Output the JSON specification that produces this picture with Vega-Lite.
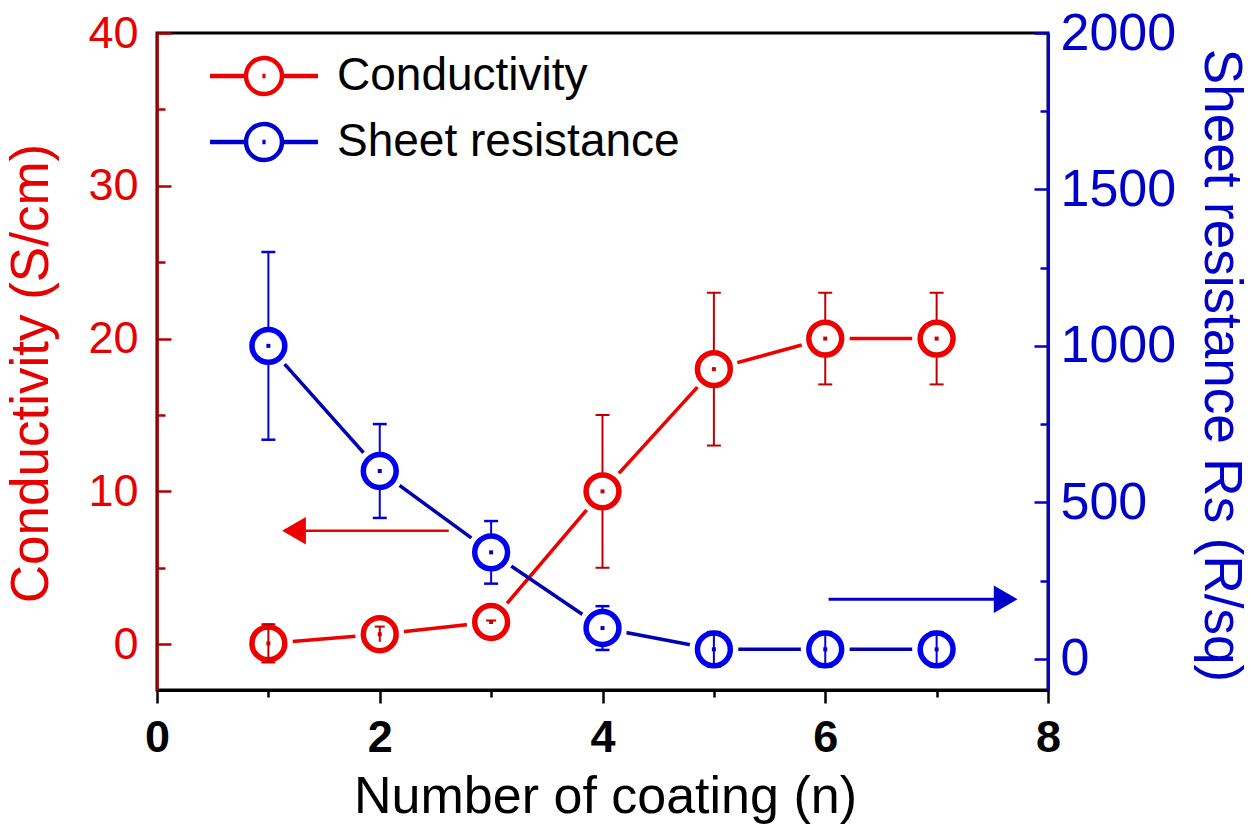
{
  "$schema": "https://vega.github.io/schema/vega-lite/v6.json",
  "width": 891,
  "height": 657,
  "autosize": {"type": "none"},
  "padding": {"left": 157, "top": 33, "right": 205, "bottom": 138},
  "background": "white",
  "config": {
    "font": "Liberation Sans",
    "view": {"stroke": "black", "strokeWidth": 3}
  },
  "datasets": {
    "cond": [
      {"n": 1, "value": 0.05, "lo": -1.2, "hi": 1.3, "series": "Conductivity"},
      {"n": 2, "value": 0.65, "lo": 0.15, "hi": 1.15, "series": "Conductivity"},
      {"n": 3, "value": 1.45, "lo": 1.35, "hi": 1.55, "series": "Conductivity"},
      {"n": 4, "value": 10, "lo": 5, "hi": 15, "series": "Conductivity"},
      {"n": 5, "value": 18, "lo": 13, "hi": 23, "series": "Conductivity"},
      {"n": 6, "value": 20, "lo": 17, "hi": 23, "series": "Conductivity"},
      {"n": 7, "value": 20, "lo": 17, "hi": 23, "series": "Conductivity"}
    ],
    "res": [
      {"n": 1, "value": 1000, "lo": 700, "hi": 1300, "series": "Sheet resistance"},
      {"n": 2, "value": 600, "lo": 450, "hi": 750, "series": "Sheet resistance"},
      {"n": 3, "value": 340, "lo": 240, "hi": 440, "series": "Sheet resistance"},
      {"n": 4, "value": 98, "lo": 28, "hi": 168, "series": "Sheet resistance"},
      {"n": 5, "value": 30, "lo": -25, "hi": 85, "series": "Sheet resistance"},
      {"n": 6, "value": 30, "lo": -25, "hi": 85, "series": "Sheet resistance"},
      {"n": 7, "value": 30, "lo": -25, "hi": 85, "series": "Sheet resistance"}
    ],
    "arrowL": [{"x1": 1.23, "x2": 2.62, "y": 7.42}],
    "arrowR": [{"x1": 6.03, "x2": 7.62, "y": 190}]
  },
  "layer": [
    {
      "data": {"name": "cond"},
      "layer": [
        {
          "mark": {"type": "line", "strokeWidth": 3.5},
          "encoding": {
            "x": {"field": "n", "type": "quantitative", "scale": {"domain": [0, 8], "nice": false, "zero": false},
              "axis": {
                "values": [0, 1, 2, 3, 4, 5, 6, 7, 8],
                "labelExpr": "datum.value % 2 == 0 ? format(datum.value, 'd') : ''",
                "tickSize": {"condition": {"test": "datum.value % 2 == 0", "value": 13}, "value": 7},
                "tickColor": "black", "tickWidth": 2.5,
                "domainColor": "black", "domainWidth": 3,
                "labelFontSize": 45, "labelFontWeight": "bold", "labelColor": "black",
                "labelFlush": false, "labelOverlap": false,
                "labelBaseline": "alphabetic", "labelPadding": 48,
                "title": "Number of coating (n)", "titleFontSize": 52, "titleFontWeight": "normal",
                "titleColor": "black", "titleX": 448, "titleY": 122, "titleBaseline": "alphabetic", "titleAlign": "center",
                "grid": false
              }},
            "y": {"field": "value", "type": "quantitative", "scale": {"domain": [-3, 40], "nice": false, "zero": false},
              "axis": {
                "orient": "left",
                "values": [0, 5, 10, 15, 20, 25, 30, 35, 40],
                "labelExpr": "datum.value % 10 == 0 ? format(datum.value, 'd') : ''",
                "tickSize": {"condition": {"test": "datum.value % 10 == 0", "value": -14}, "value": -8},
                "tickColor": "#b00000", "tickWidth": 2.5,
                "domainColor": "#b00000", "domainWidth": 2.5,
                "labelColor": "#e60000", "labelFontSize": 45, "labelPadding": 33,
                "labelFlush": false, "labelOverlap": false,
                "title": "Conductivity (S/cm)", "titleColor": "#e60000", "titleFontSize": 53, "titleFontWeight": "normal",
                "titleAngle": -90, "titleX": -110, "titleY": 340, "titleBaseline": "alphabetic", "titleAlign": "center",
                "grid": false
              }},
            "color": {"field": "series", "type": "nominal",
              "scale": {"domain": ["Conductivity", "Sheet resistance"], "range": ["#ee0000", "#0000cc"]},
              "legend": {
                "orient": "none", "legendX": 84, "legendY": 20, "direction": "vertical", "title": null,
                "symbolType": "M-2.7,0L-0.9,0M0.9,0L2.7,0M-0.9,0A0.9,0.9,0,1,0,0.9,0A0.9,0.9,0,1,0,-0.9,0M-0.08,0L0.08,0",
                "symbolSize": 1600, "symbolStrokeWidth": 4.5, "symbolFillColor": "white",
                "labelFontSize": 46, "labelColor": "black", "labelOffset": 50, "rowPadding": 12,
                "padding": 0, "symbolOffset": 0, "labelLimit": 600
              }}
          }
        },
        {
          "mark": {"type": "point", "filled": true, "color": "white", "size": 2400, "opacity": 1},
          "encoding": {
            "x": {"field": "n", "type": "quantitative", "scale": {"domain": [0, 8], "nice": false, "zero": false}},
            "y": {"field": "value", "type": "quantitative", "scale": {"domain": [-3, 40], "nice": false, "zero": false}}
          }
        },
        {
          "mark": {"type": "rule", "color": "#c00000", "strokeWidth": 2},
          "encoding": {
            "x": {"field": "n", "type": "quantitative", "scale": {"domain": [0, 8], "nice": false, "zero": false}},
            "y": {"field": "lo", "type": "quantitative", "scale": {"domain": [-3, 40], "nice": false, "zero": false}},
            "y2": {"field": "hi"}
          }
        },
        {
          "mark": {"type": "tick", "orient": "horizontal", "color": "#c00000", "size": 14, "thickness": 2, "opacity": 1},
          "encoding": {
            "x": {"field": "n", "type": "quantitative", "scale": {"domain": [0, 8], "nice": false, "zero": false}},
            "y": {"field": "lo", "type": "quantitative", "scale": {"domain": [-3, 40], "nice": false, "zero": false}}
          }
        },
        {
          "mark": {"type": "tick", "orient": "horizontal", "color": "#c00000", "size": 14, "thickness": 2, "opacity": 1},
          "encoding": {
            "x": {"field": "n", "type": "quantitative", "scale": {"domain": [0, 8], "nice": false, "zero": false}},
            "y": {"field": "hi", "type": "quantitative", "scale": {"domain": [-3, 40], "nice": false, "zero": false}}
          }
        },
        {
          "mark": {"type": "point", "filled": false, "fill": "white", "stroke": "#ee0000", "strokeWidth": 5.5, "size": 1080, "opacity": 1},
          "encoding": {
            "x": {"field": "n", "type": "quantitative", "scale": {"domain": [0, 8], "nice": false, "zero": false}},
            "y": {"field": "value", "type": "quantitative", "scale": {"domain": [-3, 40], "nice": false, "zero": false}}
          }
        },
        {
          "transform": [{"filter": "datum.hi - datum.lo < 3"}],
          "mark": {"type": "rule", "color": "#c00000", "strokeWidth": 2},
          "encoding": {
            "x": {"field": "n", "type": "quantitative", "scale": {"domain": [0, 8], "nice": false, "zero": false}},
            "y": {"field": "lo", "type": "quantitative", "scale": {"domain": [-3, 40], "nice": false, "zero": false}},
            "y2": {"field": "hi"}
          }
        },
        {
          "transform": [{"filter": "datum.hi - datum.lo < 3"}],
          "mark": {"type": "tick", "orient": "horizontal", "color": "#c00000", "size": 10, "thickness": 2, "opacity": 1},
          "encoding": {
            "x": {"field": "n", "type": "quantitative", "scale": {"domain": [0, 8], "nice": false, "zero": false}},
            "y": {"field": "hi", "type": "quantitative", "scale": {"domain": [-3, 40], "nice": false, "zero": false}}
          }
        },
        {
          "mark": {"type": "point", "filled": true, "color": "#cc0000", "size": 16, "opacity": 1, "shape": "square"},
          "encoding": {
            "x": {"field": "n", "type": "quantitative", "scale": {"domain": [0, 8], "nice": false, "zero": false}},
            "y": {"field": "value", "type": "quantitative", "scale": {"domain": [-3, 40], "nice": false, "zero": false}}
          }
        },
        {
          "data": {"name": "arrowL"},
          "mark": {"type": "rule", "color": "#ee0000", "strokeWidth": 2.5},
          "encoding": {
            "x": {"field": "x1", "type": "quantitative", "scale": {"domain": [0, 8], "nice": false, "zero": false}},
            "x2": {"field": "x2"},
            "y": {"field": "y", "type": "quantitative", "scale": {"domain": [-3, 40], "nice": false, "zero": false}}
          }
        },
        {
          "data": {"name": "arrowL"},
          "mark": {"type": "point", "shape": "triangle-left", "filled": true, "color": "#ee0000", "size": 750, "opacity": 1},
          "encoding": {
            "x": {"field": "x1", "type": "quantitative", "scale": {"domain": [0, 8], "nice": false, "zero": false}},
            "y": {"field": "y", "type": "quantitative", "scale": {"domain": [-3, 40], "nice": false, "zero": false}}
          }
        }
      ]
    },
    {
      "data": {"name": "res"},
      "layer": [
        {
          "mark": {"type": "line", "strokeWidth": 3.5, "stroke": "#0000b0"},
          "encoding": {
            "x": {"field": "n", "type": "quantitative", "scale": {"domain": [0, 8], "nice": false, "zero": false}},
            "y": {"field": "value", "type": "quantitative", "scale": {"domain": [-100, 2000], "nice": false, "zero": false},
              "axis": {
                "orient": "right",
                "values": [0, 250, 500, 750, 1000, 1250, 1500, 1750, 2000],
                "labelExpr": "datum.value % 500 == 0 ? format(datum.value, 'd') : ''",
                "tickSize": {"condition": {"test": "datum.value % 500 == 0", "value": -14}, "value": -8},
                "tickColor": "#0000cc", "tickWidth": 2.5,
                "domainColor": "#0000ee", "domainWidth": 3,
                "labelColor": "#0000c8", "labelFontSize": 52, "labelPadding": 26,
                "labelFlush": false, "labelOverlap": false,
                "title": "Sheet resistance Rs (R/sq)", "titleColor": "#0000c8", "titleFontSize": 53, "titleFontWeight": "normal",
                "titleAngle": 90, "titleX": 156, "titleY": 332, "titleBaseline": "alphabetic", "titleAlign": "center",
                "grid": false
              }},
            "color": {"field": "series", "type": "nominal",
              "scale": {"domain": ["Conductivity", "Sheet resistance"], "range": ["#ee0000", "#0000cc"]}}
          }
        },
        {
          "mark": {"type": "point", "filled": true, "color": "white", "size": 2400, "opacity": 1},
          "encoding": {
            "x": {"field": "n", "type": "quantitative", "scale": {"domain": [0, 8], "nice": false, "zero": false}},
            "y": {"field": "value", "type": "quantitative", "scale": {"domain": [-100, 2000], "nice": false, "zero": false}}
          }
        },
        {
          "mark": {"type": "rule", "color": "#0000dd", "strokeWidth": 2},
          "encoding": {
            "x": {"field": "n", "type": "quantitative", "scale": {"domain": [0, 8], "nice": false, "zero": false}},
            "y": {"field": "lo", "type": "quantitative", "scale": {"domain": [-100, 2000], "nice": false, "zero": false}},
            "y2": {"field": "hi"}
          }
        },
        {
          "mark": {"type": "tick", "orient": "horizontal", "color": "#0000dd", "size": 14, "thickness": 2.5, "opacity": 1},
          "encoding": {
            "x": {"field": "n", "type": "quantitative", "scale": {"domain": [0, 8], "nice": false, "zero": false}},
            "y": {"field": "lo", "type": "quantitative", "scale": {"domain": [-100, 2000], "nice": false, "zero": false}}
          }
        },
        {
          "mark": {"type": "tick", "orient": "horizontal", "color": "#0000dd", "size": 14, "thickness": 2.5, "opacity": 1},
          "encoding": {
            "x": {"field": "n", "type": "quantitative", "scale": {"domain": [0, 8], "nice": false, "zero": false}},
            "y": {"field": "hi", "type": "quantitative", "scale": {"domain": [-100, 2000], "nice": false, "zero": false}}
          }
        },
        {
          "mark": {"type": "point", "filled": false, "fill": "white", "stroke": "#0000ee", "strokeWidth": 5.5, "size": 1080, "opacity": 1},
          "encoding": {
            "x": {"field": "n", "type": "quantitative", "scale": {"domain": [0, 8], "nice": false, "zero": false}},
            "y": {"field": "value", "type": "quantitative", "scale": {"domain": [-100, 2000], "nice": false, "zero": false}}
          }
        },
        {
          "transform": [{"filter": "datum.hi - datum.lo < 125"}],
          "mark": {"type": "rule", "color": "#0000dd", "strokeWidth": 2},
          "encoding": {
            "x": {"field": "n", "type": "quantitative", "scale": {"domain": [0, 8], "nice": false, "zero": false}},
            "y": {"field": "lo", "type": "quantitative", "scale": {"domain": [-100, 2000], "nice": false, "zero": false}},
            "y2": {"field": "hi"}
          }
        },
        {
          "mark": {"type": "point", "filled": true, "color": "#0000cc", "size": 16, "opacity": 1, "shape": "square"},
          "encoding": {
            "x": {"field": "n", "type": "quantitative", "scale": {"domain": [0, 8], "nice": false, "zero": false}},
            "y": {"field": "value", "type": "quantitative", "scale": {"domain": [-100, 2000], "nice": false, "zero": false}}
          }
        },
        {
          "data": {"name": "arrowR"},
          "mark": {"type": "rule", "color": "#0000cc", "strokeWidth": 3},
          "encoding": {
            "x": {"field": "x1", "type": "quantitative", "scale": {"domain": [0, 8], "nice": false, "zero": false}},
            "x2": {"field": "x2"},
            "y": {"field": "y", "type": "quantitative", "scale": {"domain": [-100, 2000], "nice": false, "zero": false}}
          }
        },
        {
          "data": {"name": "arrowR"},
          "mark": {"type": "point", "shape": "triangle-right", "filled": true, "color": "#0000cc", "size": 750, "opacity": 1},
          "encoding": {
            "x": {"field": "x2", "type": "quantitative", "scale": {"domain": [0, 8], "nice": false, "zero": false}},
            "y": {"field": "y", "type": "quantitative", "scale": {"domain": [-100, 2000], "nice": false, "zero": false}}
          }
        }
      ]
    }
  ],
  "resolve": {"scale": {"y": "independent"}}
}
